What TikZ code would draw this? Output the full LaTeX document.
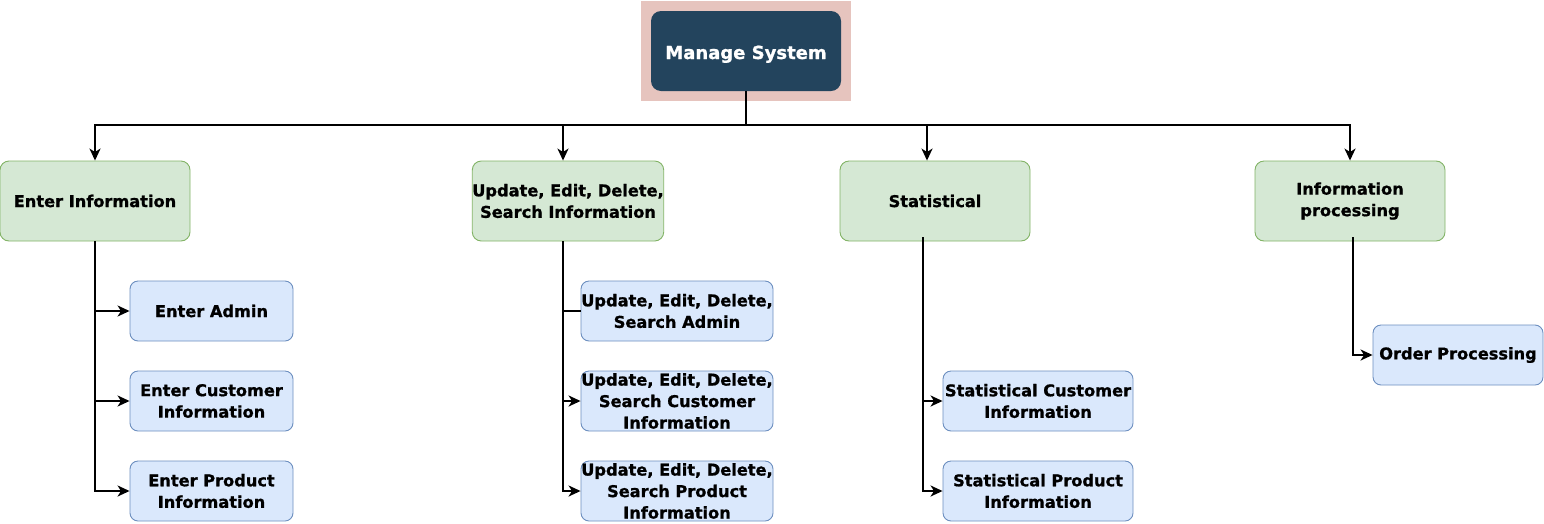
\documentclass[tikz,border=0pt]{standalone}
\usepackage{fontspec}
\setmainfont{DejaVu Sans}[BoldFeatures={FakeBold=1}]
\usetikzlibrary{arrows.meta,calc}
\definecolor{msfill}{HTML}{23445D}
\definecolor{msbg}{HTML}{E6C4BE}
\definecolor{gfill}{HTML}{D5E8D4}
\definecolor{gline}{HTML}{82B366}
\definecolor{bfill}{HTML}{DAE8FC}
\definecolor{bline}{HTML}{6C8EBF}
\tikzset{
  lvlone/.style={draw=gline, fill=gfill, line width=0.9pt, rounded corners=9pt,
    minimum width=190pt, minimum height=80pt, inner sep=0pt, align=center,
    font=\fontsize{16.2}{21.5}\selectfont\bfseries},
  lvltwo/.style={draw=bline, fill=bfill, line width=0.9pt, rounded corners=8pt,
    minimum height=60pt, inner sep=0pt, align=center,
    font=\fontsize{16.2}{21.5}\selectfont\bfseries},
  conn/.style={draw=black, line width=2pt},
  arr/.style={conn, -{Stealth[length=12pt,width=11pt,inset=3.5pt]}},
}
\begin{document}
\begin{tikzpicture}[x=1pt,y=-1pt]
\useasboundingbox (0,0) rectangle (1544,523);
% top
\node[fill=msbg, minimum width=210pt, minimum height=100pt, inner sep=0pt] (msbgnode) at (746,51) {};
\node[fill=msfill, rounded corners=10pt, minimum width=190pt, minimum height=80pt, inner sep=0pt,
  text height=16pt, text depth=-1pt,
  text=white, font=\fontsize{18}{21}\selectfont\bfseries] (ms) at (746,51) {Manage System};
% level one
\node[lvlone] (ei) at (95,201) {Enter Information};
\node[lvlone] (ud) at (568,201) {Update, Edit, Delete,\\Search Information};
\node[lvlone] (st) at (935,201) {Statistical};
\node[lvlone] (ip) at (1350,201) {Information\\processing};
% level two
\node[lvltwo, minimum width=163pt] (ea) at (211.5,311) {Enter Admin};
\node[lvltwo, minimum width=163pt] (ec) at (211.5,401) {Enter Customer\\Information};
\node[lvltwo, minimum width=163pt] (ep) at (211.5,491) {Enter Product\\Information};
\node[lvltwo, minimum width=192pt] (ua) at (677,311) {Update, Edit, Delete,\\Search Admin};
\node[lvltwo, minimum width=192pt] (uc) at (677,401) {Update, Edit, Delete,\\Search Customer\\Information};
\node[lvltwo, minimum width=192pt] (up) at (677,491) {Update, Edit, Delete,\\Search Product\\Information};
\node[lvltwo, minimum width=190pt] (sc) at (1038,401) {Statistical Customer\\Information};
\node[lvltwo, minimum width=190pt] (sp) at (1038,491) {Statistical Product\\Information};
\node[lvltwo, minimum width=170pt] (op) at (1458,355) {Order Processing};
% bus
\coordinate (bus) at (ms.south |- 0,125);
\draw[conn, line width=2.6pt] (ms.south) -- (bus);
\draw[arr] (bus) -| (ei.north);
\draw[arr] (bus) -| ([xshift=-5pt]ud.north);
\draw[arr] (bus) -| ([xshift=-8pt]st.north);
\draw[arr] (bus) -| (ip.north);
% enter info
\draw[arr] (ei.south) |- (ea.west);
\draw[arr] (ei.south) |- (ec.west);
\draw[arr] (ei.south) |- (ep.west);
% update
\draw[conn] ([xshift=-5pt]ud.south) |- (ua.west);
\draw[arr] ([xshift=-5pt]ud.south) |- (uc.west);
\draw[arr] ([xshift=-5pt]ud.south) |- (up.west);
% statistical
\draw[arr] ([xshift=-12pt,yshift=4pt]st.south) |- (sc.west);
\draw[arr] ([xshift=-12pt,yshift=4pt]st.south) |- (sp.west);
% info processing
\draw[arr] ([xshift=3pt,yshift=4pt]ip.south) |- (op.west);
\end{tikzpicture}
\end{document}
